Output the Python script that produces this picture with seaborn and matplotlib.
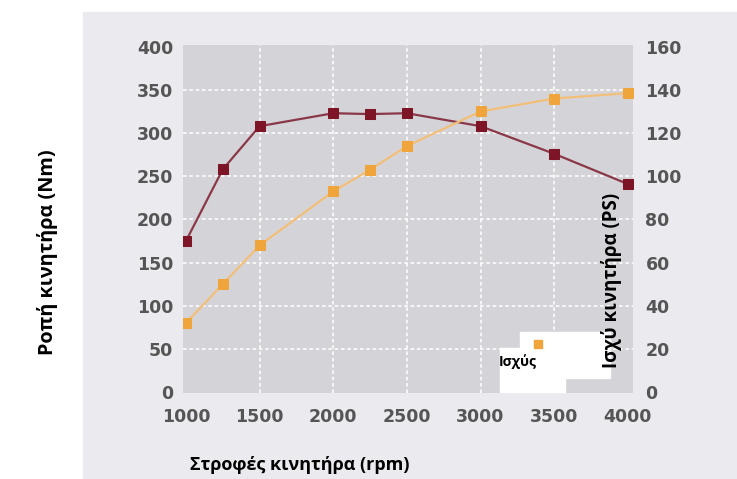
import matplotlib
matplotlib.use("Agg")
import matplotlib.pyplot as plt
from matplotlib.patches import Rectangle
from matplotlib.lines import Line2D
import seaborn as sns
import pandas as pd

# engine data
rpm = [1000, 1250, 1500, 2000, 2250, 2500, 3000, 3500, 4000]
torque_nm = [175, 258, 308, 323, 322, 323, 308, 276, 241]
power_ps = [32, 50, 68, 93, 103, 114, 130, 136, 138.5]

x_ticks = [1000, 1500, 2000, 2500, 3000, 3500, 4000]
torque_ticks = [0, 50, 100, 150, 200, 250, 300, 350, 400]
power_ticks = [0, 20, 40, 60, 80, 100, 120, 140, 160]

torque_color = "#7d1527"
torque_line = "#8a3848"
power_color = "#f0a53c"
power_line = "#f3bf78"
tick_color = "#555555"

sns.set_theme(style="white")
plt.rcParams["font.family"] = ["DejaVu Sans"]

df = pd.DataFrame({"rpm": rpm, "torque": torque_nm, "power": power_ps})

W, H = 737, 479
fig = plt.figure(figsize=(W / 100, H / 100), dpi=100)
fig.patch.set_facecolor("white")

# light grey panel behind the chart
fig.patches.append(Rectangle((83 / W, 0), 1 - 83 / W, 1 - 12 / H,
                             transform=fig.transFigure, color="#ebebef", zorder=-5))

ax = fig.add_axes([183 / W, 1 - 393 / H, 450 / W, 348 / H])
ax.set_facecolor("#d4d4d8")

sns.lineplot(data=df, x="rpm", y="torque", ax=ax, color=torque_line, linewidth=1.6,
             marker="s", markersize=7.5, markerfacecolor=torque_color,
             markeredgecolor=torque_color, zorder=4)

ax.set_xlim(980, 4035)
ax.set_ylim(-1, 402)
ax.set_xticks(x_ticks)
ax.set_yticks(torque_ticks)
ax.grid(True, color="white", linestyle=(0, (2, 1.5)), linewidth=1.3, alpha=0.85)
# no grid lines on the outer edges
for gl in [ax.xaxis.get_gridlines()[0], ax.xaxis.get_gridlines()[-1],
           ax.yaxis.get_gridlines()[0], ax.yaxis.get_gridlines()[-1]]:
    gl.set_visible(False)
ax.set_xlabel("")
ax.set_ylabel("")
for s in ax.spines.values():
    s.set_visible(False)
ax.tick_params(axis="both", length=0, labelsize=12.5, labelcolor=tick_color)
ax.tick_params(axis="x", pad=11)
ax.tick_params(axis="y", pad=7)
for lab in ax.get_xticklabels() + ax.get_yticklabels():
    lab.set_fontweight("bold")

ax2 = ax.twinx()
sns.lineplot(data=df, x="rpm", y="power", ax=ax2, color=power_line, linewidth=1.6,
             marker="s", markersize=7.5, markerfacecolor=power_color,
             markeredgecolor=power_color, zorder=3)
ax2.set_ylim(-0.4, 160.8)
ax2.set_yticks(power_ticks)
ax2.set_ylabel("")
ax2.grid(False)
for s in ax2.spines.values():
    s.set_visible(False)
ax2.tick_params(axis="y", length=0, labelsize=12.5, labelcolor=tick_color, pad=9)
for lab in ax2.get_yticklabels():
    lab.set_fontweight("bold")

# axis titles
label_font = ["Open Sans", "DejaVu Sans"]
fig.text(48 / W, 1 - 252 / H, "Ροπή κινητήρα (Nm)", rotation=90, ha="center", va="center",
         fontsize=14.3, fontweight="bold", color="black", family=label_font)
fig.text(300 / W, 1 - 465 / H, "Στροφές κινητήρα (rpm)", ha="center", va="center",
         fontsize=13, fontweight="bold", color="black", family=label_font)

# legend boxes (white patches as in the original)
fig.patches.append(Rectangle((520 / W, 1 - 378 / H), 90 / W, 46 / H,
                             transform=fig.transFigure, color="white", zorder=5))
fig.patches.append(Rectangle((500 / W, 1 - 392 / H), 65 / W, 44 / H,
                             transform=fig.transFigure, color="white", zorder=5))
handle = Line2D([], [], linestyle="none", marker="s", markersize=6,
                markerfacecolor=power_color, markeredgecolor=power_color)
leg = fig.legend(handles=[handle], labels=[""], loc="center",
                 bbox_to_anchor=(538 / W, 1 - 345 / H), frameon=False,
                 handlelength=1, handletextpad=0, borderpad=0)
leg.set_zorder(6)
fig.text(499 / W, 1 - 362 / H, "Ισχύς", ha="left", va="center", fontsize=10,
         fontweight="bold", color="black", family=label_font, zorder=7)

fig.text(612 / W, 1 - 280 / H, "Ισχύ κινητήρα (PS)", rotation=90, ha="center", va="center",
         fontsize=13.5, fontweight="bold", color="black", family=label_font, zorder=8)

fig.savefig("out.png", dpi=100)
